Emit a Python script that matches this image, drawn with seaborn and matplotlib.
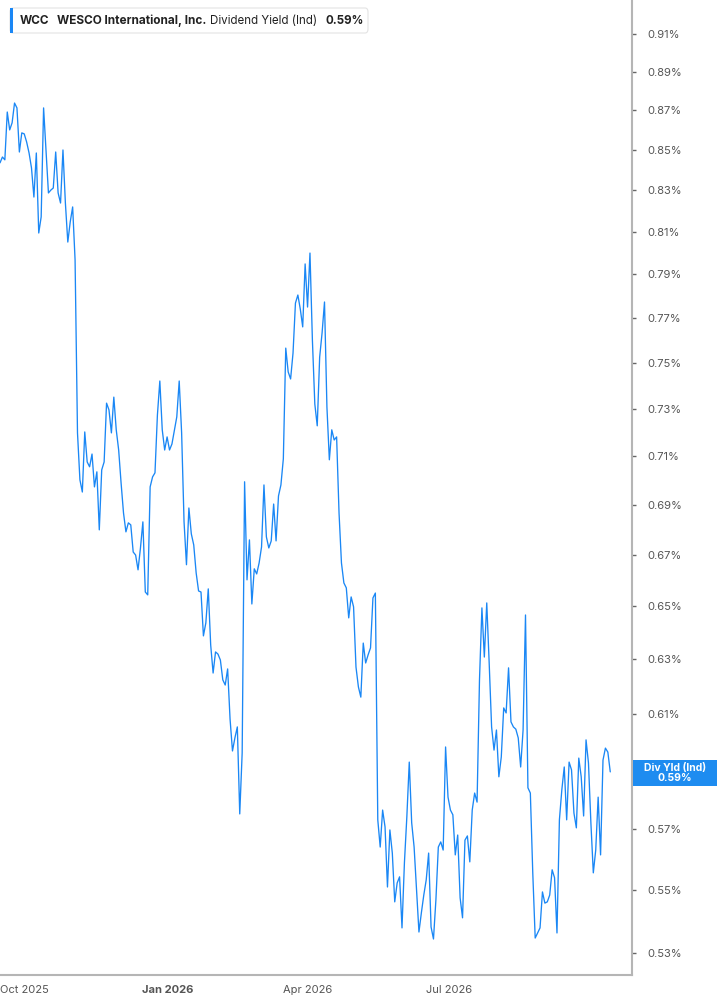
import numpy as np
import pandas as pd
import matplotlib
matplotlib.use("Agg")
import matplotlib.pyplot as plt
import matplotlib.ticker as mticker
import matplotlib.dates as mdates
from matplotlib.patches import FancyBboxPatch, Rectangle
import seaborn as sns

# ---------------- data ----------------
ticker = "WCC"
company = "WESCO International, Inc."
metric = "Dividend Yield (Ind)"
last_label = "0.59%"
short_metric = "Div Yld (Ind)"

start_date = "2025-09-15"
end_date = "2026-10-13"

# dividend yield in percent (roughly one point per trading day)
yield_pct = [
    0.8436, 0.8465, 0.8451, 0.8692, 0.8601, 0.8637, 0.8738, 0.8713, 0.8490, 0.8586,
    0.8581, 0.8540, 0.8485, 0.8411, 0.8268, 0.8485, 0.8095, 0.8172, 0.8713, 0.8500,
    0.8288, 0.8302, 0.8312, 0.8490, 0.8288, 0.8239, 0.8500, 0.8239, 0.8052, 0.8148,
    0.8220, 0.7968, 0.7197, 0.7001, 0.6951, 0.7201, 0.7075, 0.7055, 0.7108, 0.6972,
    0.7034, 0.6798, 0.7042, 0.7075, 0.7324, 0.7295, 0.7197, 0.7350, 0.7210, 0.7125,
    0.6988, 0.6866, 0.6790, 0.6826, 0.6818, 0.6710, 0.6698, 0.6640, 0.6726, 0.6830,
    0.6554, 0.6543, 0.6972, 0.7013, 0.7030,
    0.7273, 0.7420, 0.7210, 0.7125, 0.7180, 0.7125, 0.7150, 0.7206, 0.7265, 0.7420,
    0.7197, 0.6830, 0.6660, 0.6886, 0.6782, 0.6738, 0.6628, 0.6558, 0.6554, 0.6387,
    0.6436, 0.6566, 0.6353, 0.6249, 0.6327, 0.6319, 0.6297, 0.6224, 0.6205, 0.6264,
    0.6082, 0.5969, 0.6015, 0.6054, 0.5752, 0.5962, 0.6993, 0.6601, 0.6758, 0.6508,
    0.6644, 0.6624, 0.6667, 0.6730, 0.6980, 0.6770, 0.6726, 0.6754, 0.6902, 0.6754,
    0.6935, 0.6980, 0.7088, 0.7565, 0.7460, 0.7429, 0.7543, 0.7768, 0.7805, 0.7741,
    0.7660, 0.7949, 0.7750, 0.8000, 0.7601, 0.7320, 0.7227,
    0.7525, 0.7633, 0.7773, 0.7307, 0.7084, 0.7210, 0.7167, 0.7180, 0.6866, 0.6667,
    0.6589, 0.6570, 0.6455, 0.6535, 0.6497, 0.6271, 0.6198, 0.6161, 0.6360, 0.6286,
    0.6316, 0.6342, 0.6531, 0.6550,
    0.5732, 0.5641, 0.5765, 0.5708, 0.5510, 0.5698, 0.5621, 0.5462, 0.5523, 0.5543,
    0.5379, 0.5589, 0.5742, 0.5930, 0.5722, 0.5641, 0.5500, 0.5366, 0.5427, 0.5484,
    0.5533, 0.5621, 0.5382, 0.5344, 0.5468, 0.5641, 0.5658, 0.5631, 0.5983, 0.5809,
    0.5765, 0.5749, 0.5615, 0.5681, 0.5475, 0.5411, 0.5664, 0.5678, 0.5592, 0.5765,
    0.5823, 0.5792, 0.6224, 0.6493, 0.6308, 0.6512, 0.6286, 0.6054, 0.5972,
    0.6043, 0.5879, 0.5948, 0.6122, 0.6104, 0.6268, 0.6072, 0.6054, 0.6046, 0.6015,
    0.5913, 0.6043, 0.6466, 0.5841, 0.5823, 0.5556, 0.5347, 0.5363, 0.5379, 0.5494,
    0.5458, 0.5462, 0.5484, 0.5566, 0.5540, 0.5363, 0.5732, 0.5834, 0.5913, 0.5732,
    0.5930, 0.5903, 0.5755, 0.5705, 0.5944, 0.5879, 0.5745, 0.6008, 0.5927, 0.5722,
    0.5556, 0.5631, 0.5809, 0.5615, 0.5937, 0.5979, 0.5965, 0.5896,
]

y_ticks = [0.53, 0.55, 0.57, 0.59, 0.61, 0.63, 0.65, 0.67, 0.69, 0.71, 0.73,
           0.75, 0.77, 0.79, 0.81, 0.83, 0.85, 0.87, 0.89, 0.91]
hidden_tick = 0.59  # covered by the last-value tag
x_ticks = ["2025-10-01", "2026-01-01", "2026-04-01", "2026-07-01"]
x_tick_labels = ["Oct 2025", "Jan 2026", "Apr 2026", "Jul 2026"]

dates = pd.date_range(start_date, end_date, periods=len(yield_pct))
df = pd.DataFrame({"date": dates, "yield": yield_pct})

# ---------------- style ----------------
sns.set_style("white")
plt.rcParams["font.family"] = ["Inter", "DejaVu Sans"]

W, H = 717, 1005
fig = plt.figure(figsize=(W / 100, H / 100), dpi=100)
ax_left, ax_right, ax_bottom, ax_top = 0, 632, 975, 0
ax = fig.add_axes([ax_left / W, 1 - ax_bottom / H, (ax_right - ax_left) / W, (ax_bottom - ax_top) / H])

line_color = "#1a87f5"
sns.lineplot(data=df, x="date", y="yield", ax=ax, color=line_color, linewidth=0.95)

ax.set_yscale("log")
ax.set_ylim(0.5232, 0.9284)
ax.set_xlim(pd.Timestamp("2025-09-15"), pd.Timestamp("2026-10-27"))

ax.yaxis.tick_right()
ax.yaxis.set_major_locator(mticker.FixedLocator(y_ticks))
ax.yaxis.set_minor_locator(mticker.NullLocator())
ax.yaxis.set_major_formatter(mticker.FixedFormatter(
    ["" if abs(t - hidden_tick) < 1e-9 else f"{t:.2f}%" for t in y_ticks]))

ax.xaxis.set_major_locator(mticker.FixedLocator([mdates.date2num(pd.Timestamp(d)) for d in x_ticks]))
ax.xaxis.set_minor_locator(mticker.NullLocator())
ax.set_xticklabels(x_tick_labels)
for lbl in ax.get_xticklabels():
    if lbl.get_text().startswith("Jan"):
        lbl.set_fontweight("bold")
        lbl.set_fontsize(9)

tick_color = "#555555"
ax.tick_params(axis="y", which="major", direction="out", length=3, width=1,
               color="#666666", labelcolor=tick_color, labelsize=8, pad=8,
               left=False, right=True, labelleft=False, labelright=True)
ax.tick_params(axis="x", which="major", direction="out", length=4, width=1,
               color="#666666", labelcolor=tick_color, labelsize=8, pad=3)

ax.set_xlabel("")
ax.set_ylabel("")
for side in ["top", "left"]:
    ax.spines[side].set_visible(False)
for side in ["right", "bottom"]:
    ax.spines[side].set_color("#b5b5b5")
    ax.spines[side].set_linewidth(1.5)
ax.grid(False)

# ---------------- header legend box ----------------
def px(x, y):
    return x / W, 1 - y / H

bx0, by0, bx1, by1 = 10, 8, 368, 33
box = FancyBboxPatch(px(bx0, by1), (bx1 - bx0) / W, (by1 - by0) / H,
                     boxstyle="round,pad=0,rounding_size=0.004",
                     transform=fig.transFigure, facecolor="white",
                     edgecolor="#e3e3e3", linewidth=0.8, zorder=5)
fig.add_artist(box)
bar = Rectangle(px(bx0, by1), 3 / W, (by1 - by0) / H, transform=fig.transFigure,
                facecolor=line_color, edgecolor="none", zorder=6)
fig.add_artist(bar)

ty = 21
fig.text(*px(20, ty), ticker, fontsize=8.5, fontweight="bold", color="#222222", va="center", zorder=7)
fig.text(*px(57, ty), company, fontsize=8.5, fontweight="bold", color="#222222", va="center", zorder=7)
fig.text(*px(210, ty), metric, fontsize=8.3, color="#222222", va="center", zorder=7)
fig.text(*px(326, ty), last_label, fontsize=8.3, fontweight="bold", color="#222222", va="center", zorder=7)

# ---------------- last value tag ----------------
tx0, ty0, tx1, ty1 = 633, 760, 717, 786
tag = Rectangle(px(tx0, ty1), (tx1 - tx0) / W, (ty1 - ty0) / H, transform=fig.transFigure,
                facecolor="#1e8cf0", edgecolor="none", zorder=8)
fig.add_artist(tag)
fig.text(*px(675, 773), f"{short_metric}\n{last_label}", fontsize=7.5, fontweight="bold",
         color="white", ha="center", va="center", linespacing=1.0, zorder=9)

fig.savefig("out.png", dpi=100)
